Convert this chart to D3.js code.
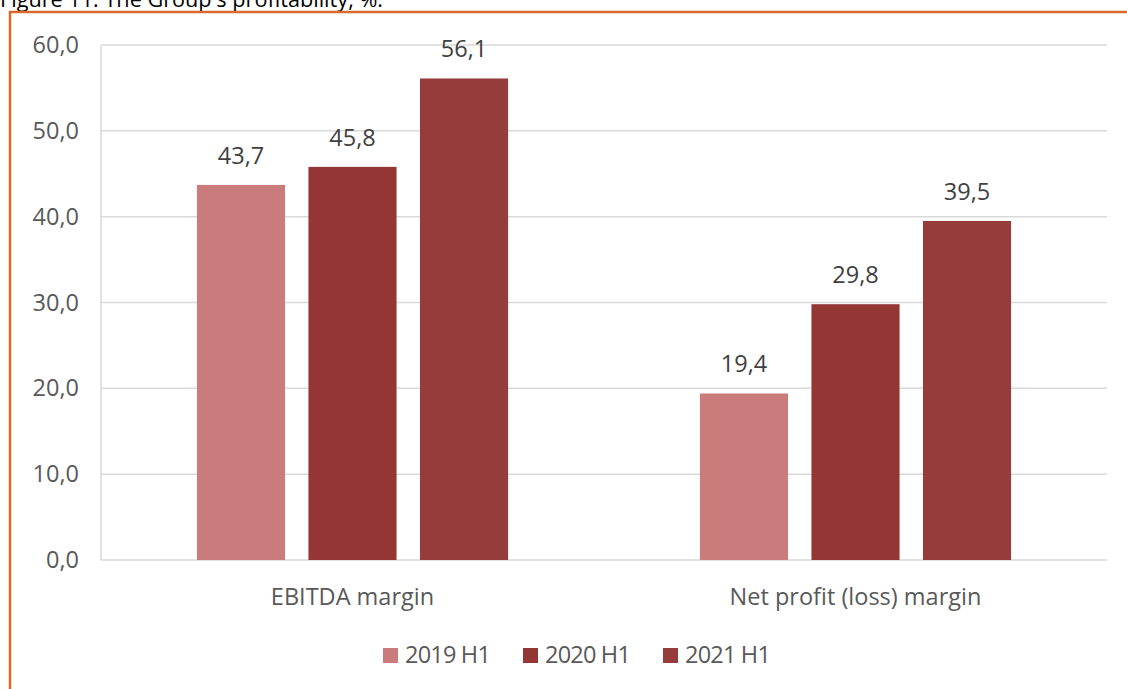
<!DOCTYPE html>
<html>
<head>
<meta charset="utf-8">
<script src="https://cdn.jsdelivr.net/npm/d3@7"></script>
<style>
  body { margin: 0; background: #fff; }
  text { font-family: "Open Sans", "Noto Sans", sans-serif; }
</style>
</head>
<body>
<script>
// chart values
var categories = ["EBITDA margin", "Net profit (loss) margin"];
var seriesNames = ["2019 H1", "2020 H1", "2021 H1"];
var values2019 = [43.7, 19.4];
var values2020 = [45.8, 29.8];
var values2021 = [56.1, 39.5];
var yTicks = [0, 10, 20, 30, 40, 50, 60];
var colours = ["#c97c7b", "#943634", "#963c3b"];

var W = 1127, H = 689;
var svg = d3.select("body").append("svg").attr("width", W).attr("height", H);

// title (cut off at top like the source)
svg.append("text").attr("x", 0).attr("y", 7)
    .attr("font-size", 21).attr("fill", "#000")
    .attr("textLength", 383).attr("lengthAdjust", "spacingAndGlyphs")
    .text("Figure 11.  The Group's profitability, %.");

// orange frame
svg.append("rect").attr("x", 10).attr("y", 12)
    .attr("width", W + 20).attr("height", H + 20)
    .attr("fill", "none").attr("stroke", "#d86b2c").attr("stroke-width", 2.5);

var locale = d3.formatLocale({decimal: ",", thousands: " ", grouping: [3], currency: ["", ""]});
var fmt = locale.format(".1f");

var plotL = 101, plotR = 1107, plotT = 45, plotB = 560;
var fs = 23.5;
var y = d3.scaleLinear().domain([0, 60]).range([plotB, plotT]);
var x0 = d3.scaleBand().domain(categories).range([plotL, plotR]).padding(0);
var x1 = d3.scaleBand().domain(seriesNames).range([0, x0.bandwidth()])
    .paddingInner(0.21).paddingOuter(0.86);

// gridlines
svg.append("g").selectAll("line").data(yTicks).enter().append("line")
    .attr("x1", plotL).attr("x2", plotR)
    .attr("y1", function(d) { return y(d); }).attr("y2", function(d) { return y(d); })
    .attr("stroke", "#d9d9d9").attr("stroke-width", 1.5);
svg.append("line").attr("x1", plotL).attr("x2", plotL).attr("y1", plotT).attr("y2", plotB)
    .attr("stroke", "#d9d9d9").attr("stroke-width", 1.5);

// y tick labels
svg.append("g").selectAll("text").data(yTicks).enter().append("text")
    .attr("x", 79).attr("y", function(d) { return y(d) + 8; })
    .attr("text-anchor", "end").attr("font-size", fs).attr("fill", "#595959")
    .text(function(d) { return fmt(d); });

var rows = categories.map(function(c, i) {
  return {cat: c, vals: [values2019[i], values2020[i], values2021[i]]};
});

var groups = svg.append("g").selectAll("g").data(rows).enter().append("g")
    .attr("transform", function(d) { return "translate(" + x0(d.cat) + ",0)"; });

groups.selectAll("rect").data(function(d) { return d.vals; }).enter().append("rect")
    .attr("x", function(d, i) { return x1(seriesNames[i]); })
    .attr("y", function(d) { return y(d); })
    .attr("width", x1.bandwidth())
    .attr("height", function(d) { return plotB - y(d); })
    .attr("fill", function(d, i) { return colours[i]; });

groups.selectAll("text.val").data(function(d) { return d.vals; }).enter().append("text")
    .attr("class", "val")
    .attr("x", function(d, i) { return x1(seriesNames[i]) + x1.bandwidth() / 2; })
    .attr("y", function(d) { return y(d) - 21; })
    .attr("text-anchor", "middle").attr("font-size", fs).attr("fill", "#404040")
    .text(function(d) { return fmt(d); });

// category labels
svg.append("g").selectAll("text").data(categories).enter().append("text")
    .attr("x", function(d) { return x0(d) + x0.bandwidth() / 2; })
    .attr("y", 605).attr("text-anchor", "middle")
    .attr("font-size", fs).attr("fill", "#595959")
    .text(function(d) { return d; });

// legend
var legX = [383, 523, 663];
var leg = svg.append("g").selectAll("g").data(seriesNames).enter().append("g")
    .attr("transform", function(d, i) { return "translate(" + legX[i] + ",648)"; });
leg.append("rect").attr("width", 15).attr("height", 15)
    .attr("fill", function(d, i) { return colours[i]; });
leg.append("text").attr("x", 22).attr("y", 15)
    .attr("font-size", fs).attr("fill", "#595959")
    .attr("letter-spacing", -0.8)
    .text(function(d) { return d; });
</script>
</body>
</html>
